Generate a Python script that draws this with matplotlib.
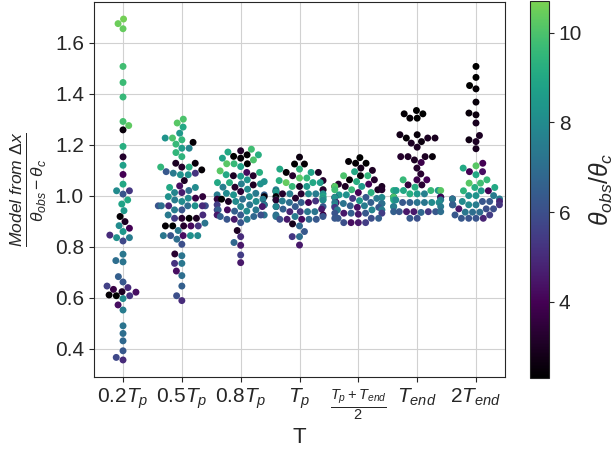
import numpy as np
import pandas as pd
import matplotlib
matplotlib.use("Agg")
import matplotlib.pyplot as plt
import seaborn as sns
from matplotlib.colors import LinearSegmentedColormap, Normalize

# model / (theta_obs - theta_c) and theta_obs/theta_c for each observing time
labels = [r"$0.2T_p$", r"$0.5T_p$", r"$0.8T_p$", r"$T_p$",
          r"$\frac{T_p+T_{end}}{2}$", r"$T_{end}$", r"$2T_{end}$"]

ratio_02tp = [1.694, 1.676, 1.656, 1.508, 1.445, 1.388, 1.292, 1.276, 1.259, 1.194,
              1.153, 1.120, 1.084, 1.046, 1.020, 1.020, 1.007, 0.984, 0.968, 0.942,
              0.919, 0.899, 0.883, 0.873, 0.860, 0.836, 0.836, 0.846, 0.823, 0.771,
              0.746, 0.741, 0.683, 0.662, 0.646, 0.640, 0.633, 0.622, 0.624, 0.608,
              0.608, 0.611, 0.597, 0.572, 0.552, 0.490, 0.460, 0.431, 0.392, 0.366,
              0.356]
theta_02tp = [10.6, 10.5, 10.4, 9.8, 9.7, 9.6, 9.9, 10.3, 2.5, 9.2,
              3.2, 8.7, 4.0, 9.0, 8.0, 5.3, 6.2, 9.0, 8.8, 8.5,
              2.4, 3.0, 8.0, 4.0, 8.4, 7.5, 8.2, 5.0, 5.8, 7.3,
              7.0, 7.2, 6.5, 6.3, 5.6, 5.0, 3.7, 4.3, 3.0, 2.3,
              5.2, 2.4, 8.0, 4.3, 7.5, 7.2, 7.0, 6.8, 6.3, 5.8,
              5.0]

ratio_05tp = [1.301, 1.286, 1.270, 1.246, 1.227, 1.227, 1.220, 1.210, 1.203, 1.187,
              1.187, 1.170, 1.154, 1.128, 1.128, 1.113, 1.113, 1.113, 1.102, 1.095,
              1.089, 1.089, 1.083, 1.083, 1.060, 1.039, 1.033, 1.033, 1.021, 1.013,
              1.013, 0.997, 0.997, 0.991, 0.991, 0.984, 0.978, 0.961, 0.961, 0.961,
              0.961, 0.961, 0.961, 0.961, 0.945, 0.945, 0.925, 0.925, 0.912, 0.912,
              0.912, 0.912, 0.893, 0.882, 0.882, 0.882, 0.882, 0.882, 0.864, 0.844,
              0.844, 0.844, 0.844, 0.844, 0.830, 0.810, 0.772, 0.765, 0.735, 0.735,
              0.705, 0.687, 0.646, 0.608, 0.589]
theta_05tp = [10.0, 10.2, 9.0, 8.5, 8.3, 10.0, 9.5, 2.4, 9.6, 8.6,
              7.8, 9.5, 9.4, 2.5, 3.0, 9.5, 3.2, 9.2, 2.4, 6.3,
              5.2, 7.4, 8.2, 8.2, 3.0, 4.3, 8.0, 9.0, 7.0, 7.8,
              4.6, 3.5, 8.2, 3.7, 8.0, 7.5, 8.0, 6.2, 7.0, 6.0,
              4.8, 8.2, 7.0, 5.0, 7.5, 6.2, 5.0, 7.4, 3.3, 5.4,
              2.3, 3.0, 7.2, 4.2, 5.2, 2.3, 2.4, 3.2, 7.4, 4.3,
              7.3, 6.2, 8.0, 8.2, 7.0, 6.0, 3.3, 7.2, 7.3, 5.2,
              4.3, 7.0, 6.5, 6.0, 5.0]

ratio_08tp = [1.183, 1.177, 1.172, 1.161, 1.155, 1.161, 1.148, 1.148, 1.141, 1.126,
              1.126, 1.126, 1.115, 1.098, 1.092, 1.092, 1.083, 1.079, 1.079, 1.077,
              1.063, 1.056, 1.052, 1.052, 1.047, 1.043, 1.047, 1.034, 1.034, 1.026,
              1.017, 1.010, 1.010, 1.004, 1.004, 1.004, 0.997, 0.997, 0.987, 0.987,
              0.987, 0.987, 0.978, 0.978, 0.978, 0.965, 0.965, 0.965, 0.965, 0.958,
              0.958, 0.945, 0.945, 0.945, 0.945, 0.940, 0.940, 0.925, 0.925, 0.925,
              0.925, 0.919, 0.919, 0.908, 0.908, 0.908, 0.895, 0.864, 0.840, 0.817,
              0.806, 0.768, 0.738]
theta_08tp = [9.8, 3.2, 9.0, 2.4, 2.3, 9.2, 8.8, 2.4, 10.0, 2.3,
              9.6, 10.2, 8.8, 10.2, 9.2, 4.2, 9.0, 3.2, 3.0, 8.5,
              8.3, 8.2, 9.0, 9.2, 7.6, 3.0, 8.2, 7.6, 3.2, 8.0,
              3.4, 7.4, 8.0, 7.5, 8.3, 6.5, 2.5, 8.0, 7.0, 3.5,
              2.3, 7.6, 3.0, 8.0, 8.0, 4.0, 7.2, 7.4, 5.5, 4.5,
              7.8, 7.3, 4.2, 5.5, 6.5, 8.0, 6.5, 7.2, 6.3, 6.0,
              4.5, 6.5, 6.8, 4.5, 7.4, 6.2, 6.2, 3.0, 5.0, 6.8,
              4.5, 5.5, 4.5]

ratio_tp = [1.152, 1.125, 1.125, 1.105, 1.105, 1.092, 1.092, 1.092, 1.079, 1.070,
            1.070, 1.060, 1.060, 1.052, 1.052, 1.052, 1.037, 1.037, 1.037, 1.024,
            1.024, 1.024, 1.017, 1.017, 1.008, 1.008, 1.008, 1.008, 1.008, 1.008,
            0.997, 0.997, 0.991, 0.991, 0.984, 0.984, 0.984, 0.984, 0.980, 0.980,
            0.974, 0.974, 0.974, 0.958, 0.958, 0.958, 0.958, 0.948, 0.948, 0.938,
            0.938, 0.938, 0.938, 0.925, 0.925, 0.919, 0.919, 0.919, 0.908, 0.908,
            0.908, 0.908, 0.908, 0.890, 0.882, 0.860, 0.840, 0.840, 0.807]
theta_tp = [2.6, 2.3, 2.4, 9.4, 9.0, 2.4, 8.8, 3.0, 3.2, 9.5,
            10.2, 3.2, 9.2, 10.4, 9.0, 8.6, 3.0, 9.6, 8.5, 10.3,
            7.6, 3.3, 3.0, 8.5, 3.2, 3.3, 8.0, 7.6, 7.5, 8.2,
            9.0, 2.4, 8.5, 3.2, 10.0, 9.0, 3.3, 8.0, 7.5, 5.2,
            6.5, 7.0, 4.0, 4.2, 6.4, 7.8, 6.3, 4.5, 6.5, 7.2,
            5.2, 7.3, 4.8, 7.0, 3.7, 7.5, 7.2, 6.2, 6.3, 4.2,
            4.5, 6.0, 6.8, 2.8, 6.8, 6.3, 5.3, 7.0, 4.5]

ratio_mid = [1.150, 1.135, 1.128, 1.128, 1.109, 1.095, 1.100, 1.079, 1.079, 1.079,
             1.063, 1.063, 1.056, 1.046, 1.046, 1.037, 1.037, 1.037, 1.037, 1.037,
             1.024, 1.024, 1.024, 1.024, 1.013, 1.013, 1.004, 1.004, 0.994, 0.994,
             0.994, 0.994, 0.990, 0.990, 0.981, 0.974, 0.974, 0.974, 0.970, 0.970,
             0.970, 0.961, 0.961, 0.961, 0.955, 0.955, 0.955, 0.945, 0.945, 0.945,
             0.932, 0.932, 0.932, 0.932, 0.932, 0.928, 0.912, 0.912, 0.912, 0.912,
             0.895, 0.895, 0.895, 0.895]
theta_mid = [2.3, 2.4, 2.3, 2.4, 2.8, 9.0, 3.0, 2.5, 9.5, 10.0,
             3.2, 2.4, 9.2, 4.0, 3.2, 3.0, 8.5, 3.0, 2.4, 10.2,
             9.6, 3.0, 9.8, 3.2, 9.3, 4.0, 8.4, 8.2, 6.3, 4.0,
             8.0, 8.2, 7.4, 5.3, 8.5, 4.3, 7.4, 6.5, 7.2, 8.0,
             7.0, 8.2, 7.5, 6.5, 6.3, 5.3, 4.3, 7.4, 7.5, 7.8,
             6.2, 6.3, 5.5, 4.5, 6.5, 4.5, 6.0, 6.3, 6.5, 6.3,
             4.5, 4.3, 5.5, 6.0]

ratio_tend = [1.335, 1.322, 1.322, 1.305, 1.305, 1.240, 1.240, 1.227, 1.227, 1.227,
              1.213, 1.207, 1.191, 1.154, 1.154, 1.154, 1.154, 1.141, 1.131, 1.109,
              1.086, 1.063, 1.063, 1.063, 1.043, 1.043, 1.034, 1.021, 1.021, 1.021,
              1.021, 1.021, 1.021, 1.008, 1.008, 1.008, 0.995, 0.995, 0.995, 0.995,
              0.995, 0.995, 0.984, 0.984, 0.984, 0.974, 0.974, 0.974, 0.974, 0.974,
              0.974, 0.958, 0.958, 0.958, 0.938, 0.938, 0.938, 0.938, 0.938, 0.938,
              0.938, 0.935, 0.912, 0.912]
theta_tend = [2.3, 2.3, 2.4, 2.3, 2.4, 2.5, 2.8, 3.0, 2.4, 2.9,
              2.6, 3.0, 3.0, 3.2, 3.1, 3.0, 2.5, 3.0, 3.8, 3.2,
              3.3, 9.6, 3.8, 4.0, 3.5, 3.3, 9.2, 9.6, 9.2, 8.6,
              8.4, 9.0, 10.2, 9.2, 8.5, 7.6, 8.8, 3.3, 8.5, 7.3,
              4.0, 10.0, 9.0, 8.0, 7.5, 7.2, 6.5, 7.3, 6.3, 8.0,
              8.0, 7.4, 7.8, 7.5, 6.3, 5.3, 4.5, 6.5, 6.3, 4.5,
              7.0, 6.8, 6.3, 6.0]

ratio_2tend = [1.508, 1.465, 1.433, 1.420, 1.368, 1.325, 1.318, 1.286, 1.237, 1.220,
               1.213, 1.185, 1.128, 1.118, 1.109, 1.095, 1.095, 1.083, 1.063, 1.050,
               1.050, 1.033, 1.033, 1.020, 1.020, 1.020, 1.001, 1.001, 1.001, 0.988,
               0.988, 0.988, 0.978, 0.978, 0.978, 0.978, 0.965, 0.965, 0.965, 0.965,
               0.965, 0.949, 0.949, 0.949, 0.936, 0.936, 0.936, 0.925, 0.925, 0.912,
               0.912, 0.912, 0.912]
theta_2tend = [2.3, 2.3, 2.3, 2.4, 2.5, 2.5, 2.6, 2.9, 3.0, 2.7,
               3.0, 2.9, 4.0, 10.2, 9.0, 4.0, 4.3, 9.0, 9.6, 9.8,
               10.2, 9.0, 9.2, 9.4, 8.5, 4.0, 8.3, 7.5, 8.2, 4.2,
               7.2, 7.4, 6.2, 6.3, 8.0, 4.8, 5.2, 7.5, 8.0, 7.5,
               6.5, 6.0, 6.0, 4.5, 7.3, 7.0, 7.0, 6.3, 5.5, 6.2,
               6.2, 4.8, 6.3]

ratios = [ratio_02tp, ratio_05tp, ratio_08tp, ratio_tp, ratio_mid, ratio_tend, ratio_2tend]
thetas = [theta_02tp, theta_05tp, theta_08tp, theta_tp, theta_mid, theta_tend, theta_2tend]

df = pd.concat([pd.DataFrame({"T": lab, "ratio": r, "theta": t})
                for lab, r, t in zip(labels, ratios, thetas)], ignore_index=True)

# viridis with a black foot for the smallest angles
vir = plt.cm.viridis
nodes = [(0.0, "black")] + [(0.2 + s, vir(s)) for s in np.linspace(0, 0.8, 30)]
cmap = LinearSegmentedColormap.from_list("dark_viridis", nodes)
norm = Normalize(vmin=2.3, vmax=10.7)

sns.set_style("ticks", {"axes.grid": True, "grid.color": ".82"})
plt.rcParams["font.family"] = ["Liberation Sans", "DejaVu Sans"]
plt.rcParams["mathtext.fontset"] = "custom"
plt.rcParams["mathtext.rm"] = "Liberation Sans"
plt.rcParams["mathtext.it"] = "Liberation Sans:italic"
plt.rcParams["mathtext.bf"] = "Liberation Sans:bold"

fig = plt.figure(figsize=(6.15, 4.54), dpi=100)
ax = fig.add_axes([0.1522, 0.1696, 0.6696, 0.826])
cax = fig.add_axes([0.8618, 0.1674, 0.0309, 0.830])

sns.swarmplot(data=df, x="T", y="ratio", hue="theta", palette=cmap, hue_norm=norm,
              order=labels, size=5, legend=False, ax=ax)

ax.grid(True, axis="both", color=".82")
ax.set_axisbelow(True)
ax.set_xlabel("T", fontsize=16)
ax.set_ylabel(r"$\frac{Model\ from\ \Delta x}{\theta_{obs}-\theta_c}$", fontsize=18)
ax.tick_params(axis="both", labelsize=15)
for s in ax.spines.values():
    s.set_color(".15")

sm = plt.cm.ScalarMappable(norm=norm, cmap=cmap)
cb = fig.colorbar(sm, cax=cax)
cb.set_ticks([4, 6, 8, 10])
cb.ax.tick_params(labelsize=15)
cb.set_label(r"$\theta_{obs}/\theta_c$", fontsize=18)
cb.outline.set_edgecolor(".15")

fig.savefig("out.png", dpi=100)
